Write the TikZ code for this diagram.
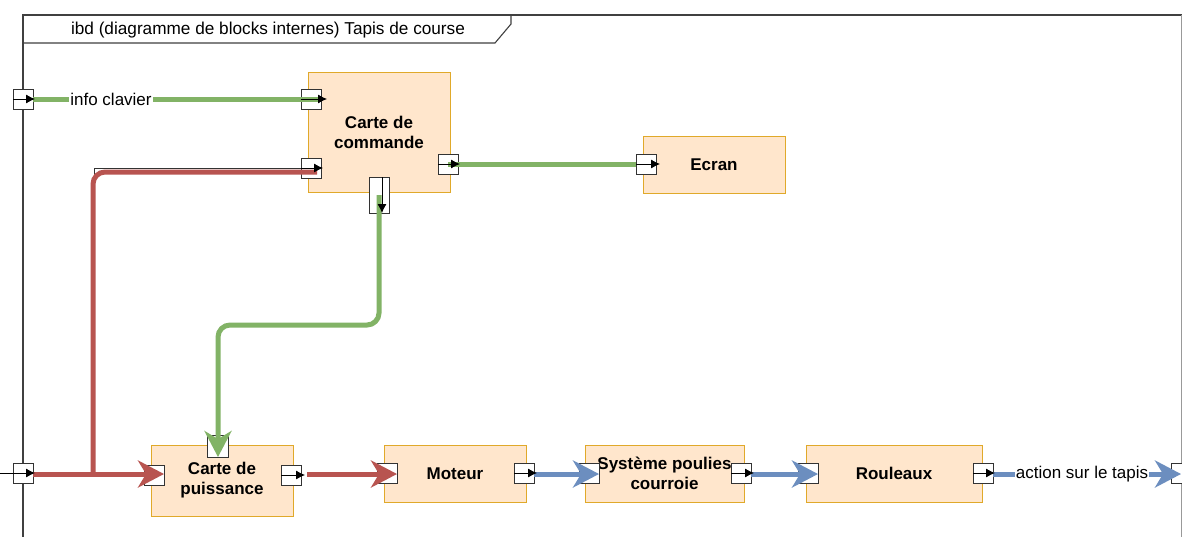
\documentclass[tikz,border=0pt]{standalone}
\usepackage{fontspec}
\setmainfont{Liberation Sans}
\usetikzlibrary{arrows.meta}
\definecolor{flowgreen}{HTML}{82B366}
\definecolor{flowred}{HTML}{B85450}
\definecolor{flowblue}{HTML}{6C8EBF}
\definecolor{blockfill}{HTML}{FFE6CC}
\definecolor{blockline}{HTML}{E0A92A}
\definecolor{framecol}{HTML}{404040}
\definecolor{portline}{HTML}{333333}
\begin{document}
\begin{tikzpicture}[x=1pt,y=-1pt,
  block/.style={draw=blockline, fill=blockfill, line width=1pt, inner sep=0pt, outer sep=0pt,
    align=center, font=\fontsize{17}{20}\selectfont\bfseries},
  portbox/.style={draw=portline, fill=white, line width=0.9pt, inner sep=0pt, outer sep=0pt,
    minimum width=20pt, minimum height=20pt},
  portarr/.style={draw=black, line width=0.8pt, -{Latex[length=9pt,width=9pt]}},
  flow/.style={line width=5pt, line cap=butt},
  bigtip/.style={-{Stealth[length=26pt,width=27pt,inset=8pt]}},
  lbl/.style={fill=white, inner sep=1pt, font=\fontsize{17}{20}\selectfont},
]
\useasboundingbox (0,0) rectangle (1182,536);
\clip (0,0) rectangle (1182,536);
\fill[white] (0,0) rectangle (1182,536);

% frame
\draw[framecol, line width=1.3pt] (23,540) -- (23,15) -- (1190,15);
\draw[black!40, line width=1pt] (1181,15) -- (1181,540);
\draw[framecol, line width=1.1pt] (23,43) -- (495,43) -- (511,24) -- (511,15);
\node[font=\fontsize{17.2}{20}\selectfont] (title) at (268,30) {ibd (diagramme de blocks internes) Tapis de course};

% blocks
\node[block, minimum width=142pt, minimum height=120pt] (cmd) at (379,132) {Carte de\\commande};
\node[block, minimum width=142pt, minimum height=57pt] (ecran) at (714,164.5) {Ecran};
\node[block, minimum width=142pt, minimum height=71pt] (puiss) at (222,480.5) {Carte de\\puissance};
\node[block, minimum width=142pt, minimum height=57pt] (moteur) at (455,473.5) {Moteur};
\node[block, minimum width=159pt, minimum height=57pt, text depth=0pt] (syst) at (664.5,473.5) {\raisebox{9pt}{}Système poulies\\courroie};
\node[block, minimum width=176pt, minimum height=57pt] (roul) at (894,473.5) {Rouleaux};

% ports
\node[portbox] (pF1) at (23,99) {};
\node[portbox] (pC1) at (311,99) {};
\node[portbox] (pC2) at (311,168) {};
\node[portbox] (pC3) at (448,164) {};
\node[portbox, minimum height=36pt] (pC4) at (379,195) {};
\node[portbox] (pE) at (646,164) {};
\node[portbox, minimum width=21pt, minimum height=22pt] (pPt) at (218,446) {};
\node[portbox] (pPl) at (154,475) {};
\node[portbox] (pPr) at (291,475) {};
\node[portbox] (pF2) at (23,473) {};
\node[portbox] (pMl) at (387,473) {};
\node[portbox] (pMr) at (524,473) {};
\node[portbox] (pSl) at (589,473) {};
\node[portbox] (pSr) at (741,473) {};
\node[portbox] (pRl) at (808,473) {};
\node[portbox] (pRr) at (983,473) {};
\node[portbox] (pF3) at (1181,473) {};

\coordinate (jred) at (93,474);
\coordinate (redtop) at (0,172);
\coordinate (gbend) at (0,325);
\coordinate (thinstart) at (94,176);

% thin black line above the red branch
\draw[portline, line width=0.9pt] (thinstart) |- (pC2.center);

% flows
\draw[flowgreen, flow] (pF1.east) -- (pC1.east);
\draw[flowgreen, flow] (pC3.center) -- (pE.west);
\draw[flowgreen, flow, rounded corners=12pt, bigtip] (pC4.center) -- (pC4 |- gbend) -- (pPt |- gbend) -- (pPt.south);
\draw[flowred, flow, bigtip] (pF2.east |- jred) -- (pPl.east |- jred);
\draw[flowred, flow, rounded corners=12pt] (jred) -- (jred |- redtop) -- ([xshift=-4pt]pC2.east |- redtop);
\draw[flowred, flow, bigtip] ([xshift=6pt]pPr.east |- jred) -- (pMl.east |- jred);
\draw[flowblue, flow, bigtip] (pMr.east |- jred) -- (pSl.east |- jred);
\draw[flowblue, flow, bigtip] (pSr.east |- jred) -- (pRl.east |- jred);
\draw[flowblue, flow, bigtip] (pRr.east |- jred) -- (pF3.center |- jred);

% port inner arrows
\draw[portarr] (pF1.west) -- ([xshift=2pt]pF1.east);
\draw[portarr] (pC1.west) -- ([xshift=6pt]pC1.east);
\draw[portarr] (pC2.west) -- ([xshift=2pt]pC2.east);
\draw[portarr] (pC3.west) -- ([xshift=2pt]pC3.east);
\draw[portarr] ([xshift=3pt]pC4.north) -- ([xshift=3pt]pC4.south);
\draw[portarr] (pE.west) -- ([xshift=4pt]pE.east);
\draw[portarr] (pPr.west) -- ([xshift=4pt]pPr.east);
\draw[portarr] ([xshift=-19pt]pF2.west) -- ([xshift=2pt]pF2.east);
\draw[portarr] (pMr.west) -- ([xshift=3pt]pMr.east);
\draw[portarr] (pSr.west) -- ([xshift=3pt]pSr.east);
\draw[portarr] (pRr.west) -- ([xshift=2pt]pRr.east);

% labels
\node[lbl] (lclav) at (111,99) {info clavier};
\node[lbl] (ltapis) at (1082,474) {action sur le tapis};
\end{tikzpicture}
\end{document}
